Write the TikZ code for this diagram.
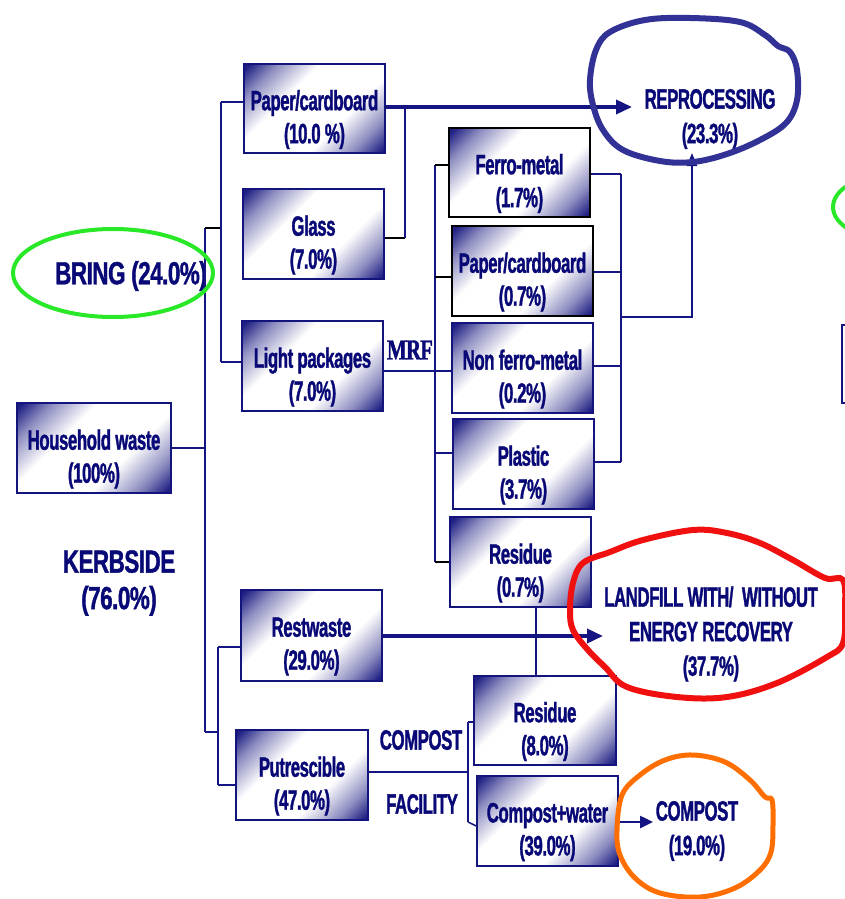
\documentclass[tikz,border=0pt]{standalone}
\usepackage{fontspec}
\usetikzlibrary{arrows.meta,calc}

% heavy condensed sans for the labels, a serif for the MRF tag
\newfontfamily\lblfont[FakeStretch=0.6,FakeBold=1.2,LetterSpace=-1.5]{Liberation Sans Bold}
\newfontfamily\bigfamily[FakeStretch=0.7,FakeBold=1.2,LetterSpace=-1.5]{Liberation Sans Bold}
\newfontfamily\mrffont[FakeStretch=0.72,FakeBold=1.5,LetterSpace=-3]{Liberation Serif Bold}
\newcommand\boxfont{\lblfont\fontsize{28}{33}\selectfont}
\newcommand\outfont{\lblfont\fontsize{28}{34.5}\selectfont}
\newcommand\bigfont{\bigfamily\fontsize{32}{36.5}\selectfont}

\definecolor{boxnavy}{RGB}{30,30,132}
\definecolor{edgenavy}{RGB}{20,20,125}
\definecolor{txtnavy}{RGB}{8,8,118}
\definecolor{linenavy}{RGB}{20,20,130}
\definecolor{penblue}{RGB}{50,50,150}
\definecolor{penred}{RGB}{240,16,16}
\definecolor{penorange}{RGB}{255,110,0}
\definecolor{pengreen}{RGB}{40,232,40}
\colorlet{boxmid}{boxnavy!50!white}

% dark corners, white diagonal band
\pgfdeclareverticalshading{boxshade}{100bp}{color(0bp)=(boxnavy); color(16bp)=(boxnavy); color(25bp)=(boxmid); color(38bp)=(white); color(62bp)=(white); color(75bp)=(boxmid); color(84bp)=(boxnavy); color(100bp)=(boxnavy)}

\tikzset{
  wbox/.style={rectangle, draw=edgenavy, line width=1.5pt, shade, shading=boxshade, shading angle=45, inner sep=0pt},
  kbox/.style={wbox, draw=black},
  wtext/.style={text=txtnavy, font=\boxfont, align=center, inner sep=0pt},
  outlbl/.style={text=txtnavy, font=\outfont, align=center, inner sep=0pt},
  biglbl/.style={text=txtnavy, font=\bigfont, align=center, inner sep=0pt},
  mrflbl/.style={text=txtnavy, font=\mrffont\fontsize{29}{32}\selectfont, inner sep=0pt},
  conn/.style={draw=linenavy, line width=1.5pt},
  stub/.style={draw=black, line width=1.5pt},
  bigarrow/.style={draw=linenavy, line width=3.5pt, -{Triangle[length=16pt,width=14pt]}},
  thinarrow/.style={draw=linenavy, line width=1.8pt, -{Triangle[length=13pt,width=10pt]}},
  midarrow/.style={draw=linenavy, line width=2.5pt, -{Triangle[length=13pt,width=12pt]}},
  inkloop/.style={line width=#1, line cap=round, line join=round},
}

% box from its corners, with its two-line text set a little low
\newcommand\wastebox[7]{%
  \node[#2, minimum width={(#5-#3)*1pt}, minimum height={(#6-#4)*1pt}] (#1) at ({(#3+#5)/2},{(#4+#6)/2}) {};
  \node[wtext] (#1-t) at ([yshift=-11pt]#1.center) {#7};
}

\begin{document}
\begin{tikzpicture}[x=1pt,y=-1pt]
\useasboundingbox (0,0) rectangle (845,899);
\clip (0,0) rectangle (845,899);

% ---- boxes ----
\wastebox{hw}{wbox}{17}{403}{171}{493}{Household waste\\(100\%)}
\wastebox{pcb}{wbox}{244}{64}{385}{153}{Paper/cardboard\\(10.0 \%)}
\wastebox{gls}{wbox}{243}{189}{384}{279}{Glass\\(7.0\%)}
\wastebox{lp}{wbox}{242}{321}{383}{411}{Light packages\\(7.0\%)}
\wastebox{fe}{kbox}{449}{128}{590}{217}{Ferro-metal\\(1.7\%)}
\wastebox{pcm}{kbox}{452}{226}{593}{316}{Paper/cardboard\\(0.7\%)}
\wastebox{nfe}{wbox}{452}{323}{593}{413}{Non ferro-metal\\(0.2\%)}
\wastebox{pla}{wbox}{453}{419}{594}{509}{Plastic\\(3.7\%)}
\wastebox{rm}{wbox}{450}{517}{591}{607}{Residue\\(0.7\%)}
\wastebox{rw}{wbox}{241}{590}{382}{681}{Restwaste\\(29.0\%)}
\wastebox{put}{wbox}{236}{730}{368}{820}{Putrescible\\(47.0\%)}
\wastebox{rc}{wbox}{474}{676}{616}{765}{Residue\\(8.0\%)}
\wastebox{cw}{wbox}{477}{776}{618}{866}{Compost+water\\(39.0\%)}

% ---- free labels ----
\node[biglbl] (bring) at (131,276) {BRING (24.0\%)};
\node[biglbl] (kerb) at (119,583) {KERBSIDE\\(76.0\%)};
\node[mrflbl] (mrf) at (410,350) {MRF};
\node[outlbl] (cf1) at (421,740) {COMPOST};
\node[outlbl] (cf2) at (422,804) {FACILITY};
\node[outlbl] (rep) at (710,119) {REPROCESSING\\(23.3\%)};
\node[outlbl] (lf) at (711,634) {LANDFILL WITH/\ \ WITHOUT\\ENERGY RECOVERY\\(37.7\%)};
\node[outlbl] (cp) at (697,831) {COMPOST\\(19.0\%)};

% ---- junction points ----
\coordinate (trunkT) at (205,228);
\coordinate (trunkB) at (205,732);
\coordinate (bringT) at (221,102);
\coordinate (bringB) at (221,362);
\coordinate (kerbT) at (218,647);
\coordinate (kerbB) at (218,785);
\coordinate (repIn) at (632,107);
\coordinate (glsJ) at (405,238);
\coordinate (mrfT) at (435,165);
\coordinate (mrfB) at (435,562);
\coordinate (colT) at (621,174);
\coordinate (colB) at (621,462);
\coordinate (colJ) at (621,317);
\coordinate (repB) at (692,153);
\coordinate (lfIn) at (603,636);
\coordinate (resX) at (536,0);
\coordinate (cfT) at (468,722);
\coordinate (cfB) at (468,822);
\coordinate (cpIn) at (653,822);

% ---- household waste split ----
\draw[conn] (hw.east) -- (hw.east -| trunkT);
\draw[conn] (trunkT) -- (trunkB);
\draw[stub] (trunkT) -- (trunkT -| bringT);
\draw[conn] (bringT) -- (bringB);
\draw[conn] (bringT) -- (bringT -| pcb.west);
\draw[conn] (bringB) -- (bringB -| lp.west);
\draw[conn] (trunkB) -- (trunkB -| kerbT);
\draw[conn] (kerbT) -- (kerbB);
\draw[conn] (kerbT) -- (kerbT -| rw.west);
\draw[conn] (kerbB) -- (kerbB -| put.west);

% ---- bring streams to reprocessing ----
\draw[bigarrow] (pcb.east |- repIn) -- (repIn);
\draw[stub] (glsJ -| gls.east) -- (glsJ);
\draw[conn] (glsJ) -- (glsJ |- repIn);

% ---- MRF sorting ----
\draw[conn] (lp.east |- 0,371) -- (nfe.west |- 0,371);
\draw[conn] (mrfT) -- (mrfB);
\draw[stub] (mrfT) -- (mrfT -| fe.west);
\draw[stub] (mrfT |- 0,277) -- (pcm.west |- 0,277);
\draw[conn] (mrfT |- 0,453) -- (pla.west |- 0,453);
\draw[stub] (mrfB) -- (mrfB -| rm.west);
\draw[conn] (colT) -- (colB);
\draw[conn] (fe.east |- colT) -- (colT);
\draw[conn] (pcm.east |- 0,272) -- (colT |- 0,272);
\draw[conn] (nfe.east |- 0,366) -- (colT |- 0,366);
\draw[conn] (pla.east |- colB) -- (colB);
\draw[thinarrow] (colJ) -| (repB);

% ---- residual streams ----
\draw[bigarrow] (rw.east |- lfIn) -- (lfIn);
\draw[conn] (rm.south -| resX) -- (rc.north -| resX);

% ---- compost facility ----
\draw[conn] (put.east |- 0,772) -- (cfT |- 0,772);
\draw[conn] (cfT) -- (cfB);
\draw[conn] (cfT) -- (cfT -| rc.west);
\draw[conn] (cfB) -- (cw.west |- 0,826);
\draw[midarrow] (cw.east |- cpIn) -- (cpIn);

% ---- hand-drawn loops ----
\draw[pengreen, inkloop=4pt] (113,273) ellipse [x radius=100, y radius=44];
\draw[pengreen, inkloop=4pt] (893,207) ellipse [x radius=60, y radius=33];
\draw[edgenavy, line width=1.5pt] (842,325) rectangle (880,403);

\draw[penblue, inkloop=6pt] plot[smooth cycle, tension=0.6] coordinates {
  (590,80) (593,105) (603,130) (623,150) (660,161) (693,162) (727,154)
  (760,140) (786,123) (797,100) (797,70) (790,52) (778,46) (765,35)
  (740,22) (690,18) (645,20) (610,32) (596,50)};

\draw[penred, inkloop=6pt] plot[smooth cycle, tension=0.6] coordinates {
  (570,610) (573,583) (583,563) (610,552) (643,540) (693,530) (727,533)
  (760,543) (793,560) (825,578) (843,580) (845,610) (843,643) (827,657)
  (777,683) (727,697) (677,697) (627,687) (605,667) (588,650) (573,630)};

\draw[penorange, inkloop=5pt] plot[smooth cycle, tension=0.6] coordinates {
  (617,830) (622,795) (640,775) (665,760) (693,755) (725,762) (750,780)
  (765,797) (772,800) (773,825) (771,852) (760,870) (735,888) (700,897)
  (660,893) (635,878) (620,855)};
\end{tikzpicture}
\end{document}
